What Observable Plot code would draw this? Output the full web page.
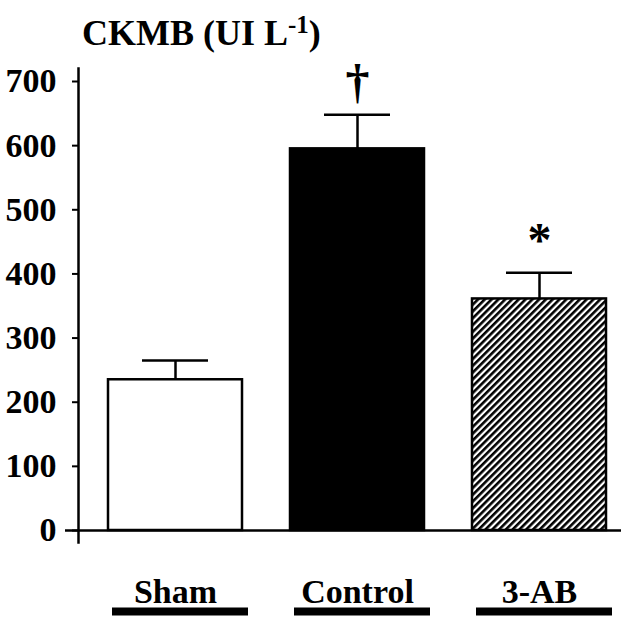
<!DOCTYPE html>
<html><head><meta charset="utf-8">
<script src="https://cdn.jsdelivr.net/npm/d3@7"></script>
<script src="https://cdn.jsdelivr.net/npm/@observablehq/plot@0.6"></script>
<style>
body{margin:0;background:#fff;}
#title{height:43px;padding-top:13px;padding-left:82px;font:bold 36px "Liberation Serif",serif;line-height:40px;white-space:nowrap;color:#000;}
#title .sup{font-size:25px;position:relative;top:-12px;}
</style></head><body>
<div id="title">CKMB (UI L<span class="sup">-1</span>)</div>
<div id="chart"></div>
<script>
const groups = ["Sham", "Control", "3-AB"];
const means = [235, 595, 361];
const sems = [30, 53, 41];
const signif = ["", "\u2020", "*"];
const fills = ["white", "black", "url(#hatch)"];
const yTicks = [0, 100, 200, 300, 400, 500, 600, 700];

const table = groups.map((g, i) => ({group: g, value: means[i], err: sems[i], sig: signif[i], fill: fills[i]}));
const serif = "Liberation Serif, Times New Roman, serif";

const plot = Plot.plot({
  width: 640,
  height: 570,
  marginTop: 25,
  marginBottom: 96,
  marginLeft: 78,
  marginRight: 19,
  style: {fontFamily: serif, color: "black", background: "white"},
  x: {domain: groups, paddingInner: 0.266, paddingOuter: 0.1205, align: 0.655, label: null},
  y: {domain: [0, 700], label: null},
  color: {type: "identity"},
  marks: [
    Plot.barY(table, {x: "group", y: "value", fill: "fill", stroke: "black", strokeWidth: 2.5}),
    Plot.ruleX(table, {x: "group", y1: "value", y2: d => d.value + d.err, stroke: "black", strokeWidth: 2.5}),
    Plot.tickY(table, {x: "group", y: d => d.value + d.err, stroke: "black", strokeWidth: 2.5, inset: 34}),
    Plot.text(table, {x: "group", y: d => d.value + d.err, text: "sig", dy: -32, fontSize: 48, fontWeight: "bold", fontFamily: serif, fill: "black"}),
    Plot.frame({anchor: "left", insetTop: -13, insetBottom: -12, strokeWidth: 2.5, stroke: "black"}),
    Plot.ruleY([0], {insetLeft: -13, strokeWidth: 2.5, stroke: "black"}),
    Plot.axisY({ticks: yTicks, tickSize: 6, tickPadding: 16, fontSize: 34, fontWeight: "bold", strokeWidth: 2, tickFormat: d => String(d), label: null}),
    Plot.axisX({tickSize: 0, tickPadding: 48, fontSize: 34, fontWeight: "bold", label: null}),
    Plot.tickY(groups, {x: d => d, y: d => 0, dy: 81, dx: 5, insetLeft: -1, insetRight: -1, strokeWidth: 8, stroke: "black"})
  ]
});

const svg = d3.select(plot);
const defs = svg.insert("defs", ":first-child");
const pat = defs.append("pattern")
  .attr("id", "hatch")
  .attr("patternUnits", "userSpaceOnUse")
  .attr("width", 4.8)
  .attr("height", 4.8)
  .attr("patternTransform", "rotate(45)");
pat.append("rect").attr("width", 4.8).attr("height", 4.8).attr("fill", "white");
pat.append("line").attr("x1", 1.3).attr("y1", 0).attr("x2", 1.3).attr("y2", 4.8).attr("stroke", "black").attr("stroke-width", 2.6);

document.getElementById("chart").appendChild(plot);
</script>
</body></html>
